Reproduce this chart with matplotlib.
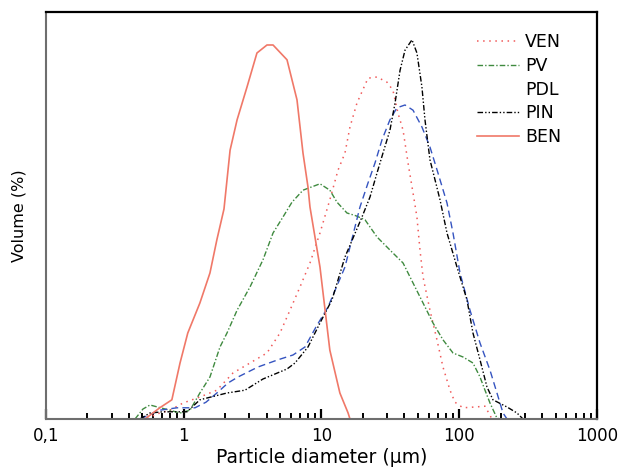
import matplotlib
matplotlib.use('Agg')
import matplotlib.pyplot as plt
from matplotlib.lines import Line2D

# particle size distributions (diameter in um, volume in %)
ben_d = [0.523, 0.67, 0.82, 0.94, 1.07, 1.31, 1.55, 1.74, 1.96, 2.17, 2.44, 2.88, 3.40, 4.02, 4.45,
         5.62, 6.64, 7.34, 7.98, 8.25, 9.75, 11.5, 13.6, 15.6, 16.1]
ben_v = [0, 0.28, 0.48, 1.40, 2.15, 2.90, 3.65, 4.48, 5.25, 6.72, 7.48, 8.30, 9.15, 9.35, 9.35,
         8.98, 7.98, 6.65, 5.80, 5.30, 3.80, 1.72, 0.65, 0.15, 0]

ven_d = [0.541, 0.67, 0.795, 0.99, 1.31, 1.74, 2.278, 3.027, 4.02, 4.997, 5.906, 6.98, 8.25, 9.75,
         11.5, 13.18, 14.81, 16.1, 18.1, 21.76, 25.3, 29.9, 33.0, 35.9, 39.1, 42.5, 46.2, 49.3,
         51.9, 54.6, 61.3, 68.9, 76.2, 85.7, 93.1, 106.5, 130.1, 153.8, 172.9]
ven_v = [0.02, 0.15, 0.22, 0.40, 0.55, 0.72, 1.15, 1.40, 1.65, 2.15, 2.72, 3.30, 3.90, 4.65,
         5.48, 6.22, 6.65, 7.30, 7.90, 8.52, 8.55, 8.42, 8.22, 7.65, 7.22, 6.40, 5.65, 5.05,
         4.22, 3.55, 2.72, 1.98, 1.30, 0.72, 0.42, 0.28, 0.30, 0.32, 0]

pv_d = [0.443, 0.506, 0.569, 0.731, 0.94, 1.110, 1.31, 1.55, 1.833, 2.061, 2.44, 3.027, 3.761,
        4.45, 5.254, 6.107, 7.34, 9.75, 11.5, 12.96, 15.31, 17.8, 20.7, 25.3, 33.0, 39.1, 46.2,
        54.6, 64.5, 76.2, 90.1, 106.5, 125.8, 141.5, 153.8, 167.2, 187.9, 197.6]
pv_v = [0, 0.25, 0.35, 0.25, 0.15, 0.22, 0.65, 1.05, 1.80, 2.15, 2.72, 3.30, 3.98,
        4.65, 5.05, 5.42, 5.72, 5.88, 5.72, 5.42, 5.15, 5.08, 4.98, 4.55, 4.15, 3.90, 3.40,
        2.90, 2.40, 1.98, 1.65, 1.55, 1.40, 1.05, 0.72, 0.40, 0.02, 0]

pdl_d = [0.481, 0.67, 0.893, 1.207, 1.451, 1.74, 2.096, 2.477, 3.459, 4.833, 6.210, 7.59, 9.12,
         11.15, 14.81, 19.03, 21.76, 24.46, 27.5, 31.4, 35.3, 40.4, 46.2, 53.6, 61.3, 70.1, 81.5,
         90.1, 101.3, 119.7, 141.5, 167.2, 187.9, 207.8, 222.2]
pdl_v = [0, 0.22, 0.28, 0.28, 0.42, 0.65, 0.90, 1.05, 1.30, 1.48, 1.60, 1.80, 2.30,
         2.80, 3.80, 5.30, 5.90, 6.40, 6.98, 7.48, 7.78, 7.85, 7.72, 7.30, 6.80, 6.15, 5.40,
         4.65, 3.65, 2.72, 1.90, 1.22, 0.65, 0.15, 0]

pin_d = [0.481, 0.569, 0.707, 1.056, 1.31, 2.061, 2.784, 3.761, 5.62, 6.423, 7.98, 9.75, 11.92,
         14.81, 19.68, 22.5, 25.3, 27.96, 31.4, 34.2, 37.2, 40.4, 45.4, 49.3, 53.6, 56.4, 61.3,
         66.7, 72.5, 81.5, 96.3, 113.8, 125.8, 141.5, 159.0, 175.8, 222.2, 262.6, 290.3]
pin_v = [0, 0.15, 0.18, 0.18, 0.48, 0.65, 0.72, 1.00, 1.25, 1.40, 1.80, 2.40, 2.98,
         4.05, 5.05, 5.55, 6.15, 6.65, 7.22, 7.90, 8.72, 9.22, 9.48, 9.15, 8.30, 7.48, 6.48,
         5.98, 5.48, 4.65, 3.80, 2.98, 2.15, 1.48, 0.80, 0.48, 0.30, 0.15, 0]

tick_pos = [0.1, 1, 10, 100, 1000]
tick_labels = ['0,1', '1', '10', '100', '1000']

fig = plt.figure(figsize=(6.18, 4.72), dpi=100)
ax = fig.add_axes([0.0744, 0.1123, 0.8916, 0.8623])

ven, = ax.plot(ven_d, ven_v, color='#f05a5a', linestyle=(0, (1, 3)), lw=1.1, label='VEN')
pv, = ax.plot(pv_d, pv_v, color='#3f8a3f', linestyle=(0, (4, 1.5, 1, 1.5)), lw=1.0, label='PV')
pdl, = ax.plot(pdl_d, pdl_v, color='#3554c0', linestyle=(0, (5, 3)), lw=1.0)
pin, = ax.plot(pin_d, pin_v, color='black', linestyle=(0, (4, 1.5, 1, 1.5, 1, 1.5)), lw=1.0, label='PIN')
ben, = ax.plot(ben_d, ben_v, color='#f07868', linestyle='-', lw=1.2, label='BEN')

ax.set_xscale('log')
ax.set_xlim(0.1, 1000)
ax.set_ylim(0, 10.175)
ax.set_xticks(tick_pos)
ax.set_xticklabels(tick_labels)
ax.set_yticks([])
ax.tick_params(axis='x', which='major', direction='in', length=7, width=1.6, labelsize=12, pad=6)
ax.tick_params(axis='x', which='minor', direction='in', length=4, width=1.4)

for side in ['top', 'right']:
    ax.spines[side].set_color('black')
    ax.spines[side].set_linewidth(1.6)
for side in ['left', 'bottom']:
    ax.spines[side].set_color('#6e6e6e')
    ax.spines[side].set_linewidth(1.5)

ax.set_xlabel('Particle diameter (\u00b5m)', fontsize=13.5, labelpad=2)
ax.set_ylabel('Volume (%)', fontsize=11.5, labelpad=14)

pdl_blank = Line2D([], [], linestyle='none', label='PDL')
ax.legend(handles=[ven, pv, pdl_blank, pin, ben], loc='upper left',
          bbox_to_anchor=(0.77, 0.965), frameon=False, fontsize=12.5,
          handlelength=2.4, handletextpad=0.35, labelspacing=0.33, borderaxespad=0)

fig.savefig('out.png', dpi=100)
